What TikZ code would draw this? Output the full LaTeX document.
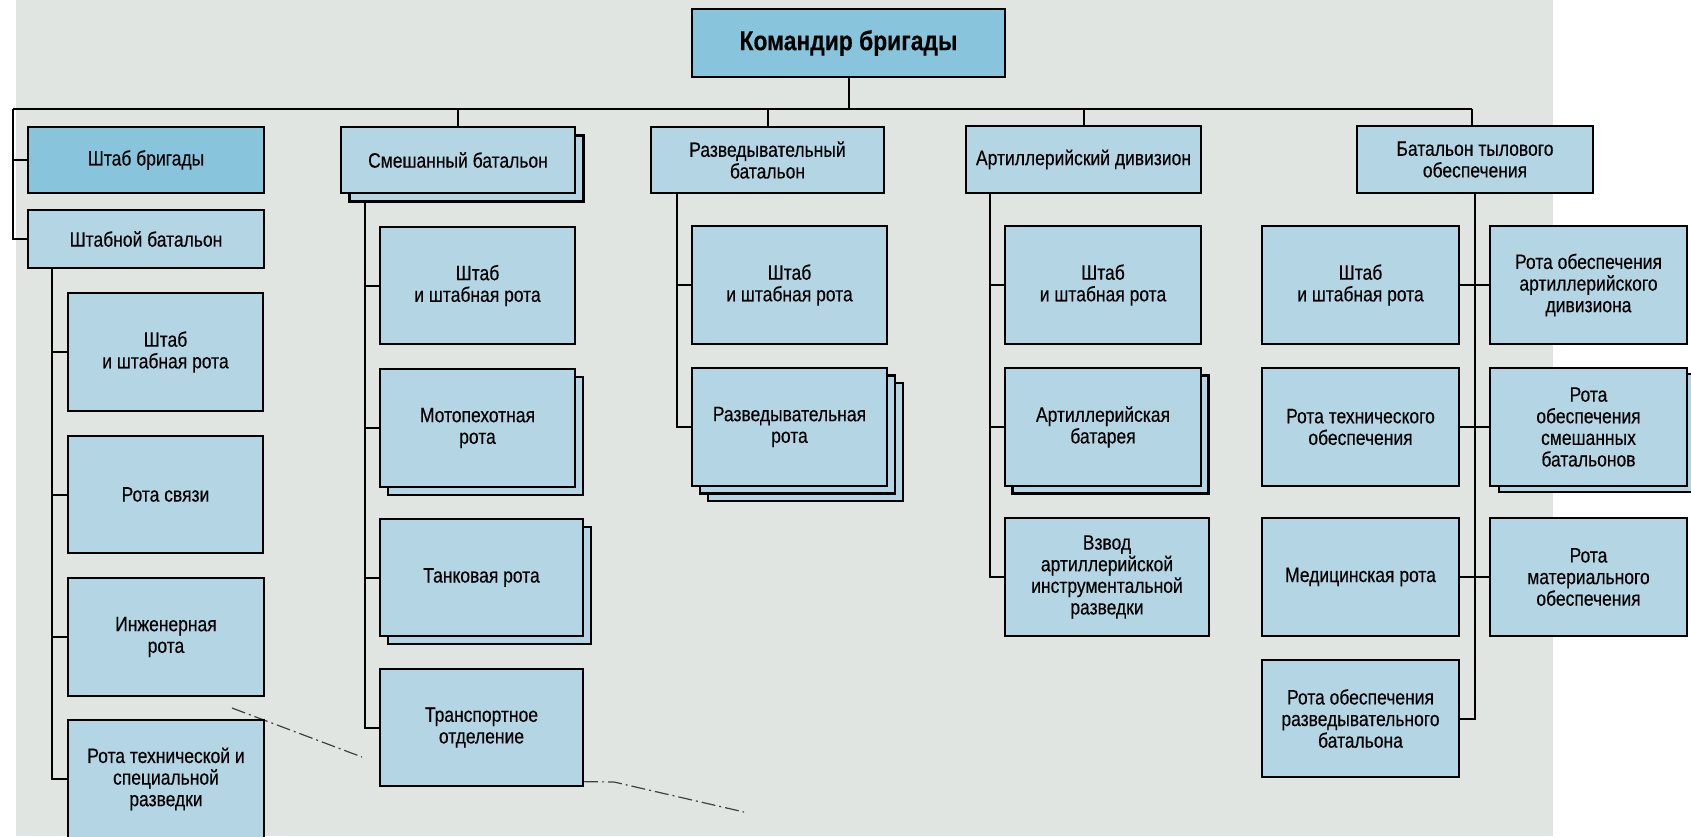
\documentclass[tikz,border=0pt]{standalone}
\usepackage{fontspec}
\setmainfont{Liberation Sans}[FakeStretch=0.84,FakeBold=0.3]
\usetikzlibrary{shadows}
\definecolor{boxlight}{RGB}{180,213,227}
\definecolor{boxdark}{RGB}{136,196,220}
\definecolor{paper}{RGB}{225,229,226}
\tikzset{
  unitbox/.style={draw=black,line width=1.3pt,fill=boxlight,rectangle,inner sep=0pt,outer sep=0pt,
    align=center,font=\fontsize{10.4}{10.8}\selectfont},
  headbox/.style={fill=boxdark},
  onecopy/.style={copy shadow={shadow xshift=#1,shadow yshift=-#1,fill=boxlight,draw=black,line width=1.3pt}},
  twocopies/.style={copy shadow={shadow xshift=8pt,shadow yshift=-7.5pt,fill=boxlight,draw=black,line width=1.3pt},
    copy shadow={shadow xshift=4pt,shadow yshift=-3.8pt,fill=boxlight,draw=black,line width=1.3pt}},
  link/.style={draw=black,line width=1pt},
  trace/.style={draw=black!75,line width=0.6pt,dash pattern=on 7pt off 2pt on 1pt off 2pt}
}
% \orgbox[style]{name}{x1}{y1}{x2}{y2}{text}, corners in pixel units
\newcommand\orgbox[7][]{%
  \pgfmathsetmacro\bw{(#5-#3)*0.5}%
  \pgfmathsetmacro\bh{(#6-#4)*0.5}%
  \node[unitbox,#1,minimum width=\bw pt,minimum height=\bh pt] (#2) at ({(#3+#5)/2},{(#4+#6)/2}) {#7};}
\begin{document}
\begin{tikzpicture}[x=0.5pt,y=-0.5pt]
\useasboundingbox (0,0) rectangle (1691,836);
\clip (0,0) rectangle (1691,836);
% paper
\fill[white] (0,0) rectangle (1691,836);
\fill[paper] (16,0) rectangle (1553,836);

% faint dash-dot traces
\draw[trace] (232,708) -- (362,757);
\draw[trace] (536,781) -- (614,782) -- (744,812);

% command
\orgbox[headbox,font=\fontsize{13.6}{15}\selectfont\bfseries]{cmd}{692}{9}{1005}{77}{Командир бригады}

% first level
\orgbox[headbox]{brig}{28}{127}{264}{193}{Штаб бригады}
\orgbox{hqbat}{28}{210}{264}{268}{Штабной батальон}
\orgbox[onecopy=4.3pt]{smesh}{341}{127}{575}{193}{Смешанный батальон}
\orgbox{razv}{651}{127}{884}{193}{Разведывательный\\батальон}
\orgbox{art}{966}{126}{1201}{193}{Артиллерийский дивизион}
\orgbox{tyl}{1357}{126}{1593}{193}{Батальон тылового\\обеспечения}

% headquarters battalion
\orgbox{a1}{68}{293}{263}{411}{Штаб\\и штабная рота}
\orgbox{a2}{68}{436}{263}{553}{Рота связи}
\orgbox{a3}{68}{578}{264}{696}{Инженерная\\рота}
\orgbox{a4}{68}{720}{264}{838}{Рота технической и\\специальной\\разведки}

% combined battalion
\orgbox{b1}{380}{227}{575}{344}{Штаб\\и штабная рота}
\orgbox[onecopy=4pt]{b2}{380}{369}{575}{487}{Мотопехотная\\рота}
\orgbox[onecopy=4pt]{b3}{380}{519}{583}{636}{Танковая рота}
\orgbox{b4}{380}{669}{583}{786}{Транспортное\\отделение}

% reconnaissance battalion
\orgbox{c1}{692}{226}{887}{344}{Штаб\\и штабная рота}
\orgbox[twocopies]{c2}{692}{368}{887}{486}{Разведывательная\\рота}

% artillery battalion
\orgbox{d1}{1005}{226}{1201}{344}{Штаб\\и штабная рота}
\orgbox[onecopy=3.8pt]{d2}{1005}{368}{1201}{486}{Артиллерийская\\батарея}
\orgbox{d3}{1005}{518}{1209}{636}{Взвод\\артиллерийской\\инструментальной\\разведки}

% logistics battalion
\orgbox{e1}{1262}{226}{1459}{344}{Штаб\\и штабная рота}
\orgbox{e2}{1262}{368}{1459}{486}{Рота технического\\обеспечения}
\orgbox{e3}{1262}{518}{1459}{636}{Медицинская рота}
\orgbox{e4}{1262}{660}{1459}{777}{Рота обеспечения\\разведывательного\\батальона}
\orgbox{f1}{1490}{226}{1687}{344}{Рота обеспечения\\артиллерийского\\дивизиона}
\orgbox[copy shadow={shadow xshift=4.5pt,shadow yshift=-3pt,fill=boxlight,draw=black,line width=1.3pt}]{f2}{1490}{368}{1687}{486}{Рота\\обеспечения\\смешанных\\батальонов}
\orgbox{f3}{1490}{518}{1687}{636}{Рота\\материального\\обеспечения}

% bus
\coordinate (busL) at (13,109);
\coordinate (busR) at (1472,109);
\draw[link] (cmd.south) -- (cmd.south |- busL);
\draw[link] (busL) -- (busR);
\draw[link] (busL) |- (brig.west);
\draw[link] (busL) |- (hqbat.west);
\draw[link] (smesh.north) -- (smesh.north |- busL);
\draw[link] (razv.north) -- (razv.north |- busL);
\draw[link] (art.north) -- (art.north |- busL);
\draw[link] (busR) -- (busR |- tyl.north);

% branches
\coordinate (t1) at (52,268);
\coordinate (t2) at (365,202);
\coordinate (t3) at (676.5,193);
\coordinate (t4) at (990,193);
\coordinate (t5) at (1475,193);
\foreach \c in {a1,a2,a3,a4} \draw[link] (t1) |- (\c.west);
\foreach \c in {b1,b2,b3,b4} \draw[link] (t2) |- (\c.west);
\foreach \c in {c1,c2} \draw[link] (t3) |- (\c.west);
\foreach \c in {d1,d2,d3} \draw[link] (t4) |- (\c.west);
\foreach \c in {e1,e2,e3,e4} \draw[link] (t5) |- (\c.east);
\foreach \c in {f1,f2,f3} \draw[link] (t5) |- (\c.west);
\end{tikzpicture}
\end{document}
